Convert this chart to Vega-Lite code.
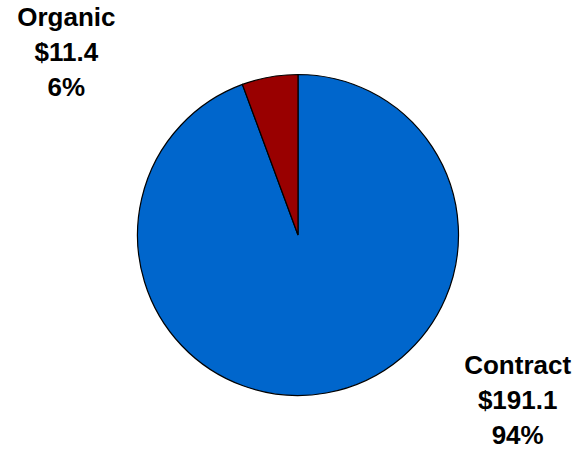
{
  "$schema": "https://vega.github.io/schema/vega-lite/v6.json",
  "width": 572,
  "height": 430,
  "autosize": "none",
  "padding": {"left": 12, "top": 20, "right": 0, "bottom": 0},
  "background": "white",
  "title": {"text": "($ Millions)", "font": "Liberation Sans", "fontSize": 22, "fontWeight": "normal", "color": "#0000FF", "anchor": "middle", "baseline": "alphabetic", "offset": 17},
  "config": {"view": {"stroke": null}},
  "data": {
    "values": [
      {"category": "Contract", "value": 191.1, "label": "Contract\n$191.1\n94%"},
      {"category": "Organic", "value": 11.4, "label": "Organic\n$11.4\n6%"}
    ]
  },
  "encoding": {
    "theta": {"field": "value", "type": "quantitative", "stack": true},
    "order": {"field": "category", "sort": "ascending"}
  },
  "layer": [
    {
      "mark": {"type": "arc", "outerRadius": 160.5, "stroke": "black", "strokeWidth": 1.2},
      "encoding": {
        "color": {
          "field": "category",
          "type": "nominal",
          "scale": {"domain": ["Contract", "Organic"], "range": ["#0066CC", "#990000"]},
          "legend": null
        }
      }
    },
    {
      "mark": {"type": "text", "radius": 180, "dx": -200, "dy": -40, "font": "Liberation Sans", "fontWeight": "bold", "fontSize": 26, "lineHeight": 35, "lineBreak": "\n", "align": "center", "baseline": "middle", "color": "black"},
      "encoding": {
        "text": {"condition": {"test": "datum.category === 'Organic'", "field": "label"}, "value": ""}
      }
    },
    {
      "mark": {"type": "text", "radius": 180, "dx": 188, "dy": -46, "font": "Liberation Sans", "fontWeight": "bold", "fontSize": 26, "lineHeight": 35, "lineBreak": "\n", "align": "center", "baseline": "middle", "color": "black"},
      "encoding": {
        "text": {"condition": {"test": "datum.category === 'Contract'", "field": "label"}, "value": ""}
      }
    }
  ]
}
